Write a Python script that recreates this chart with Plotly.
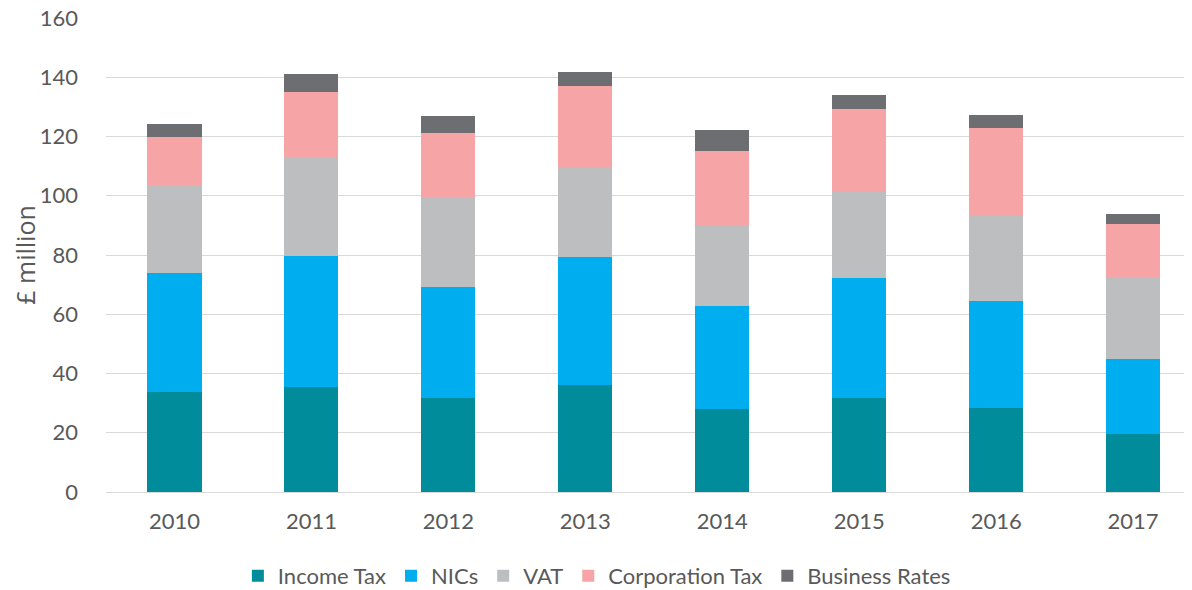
import plotly.graph_objects as go

years = ["2010", "2011", "2012", "2013", "2014", "2015", "2016", "2017"]
income_tax = [33.6, 35.4, 31.8, 36.0, 27.9, 31.8, 28.2, 19.5]
nics = [40.4, 44.3, 37.5, 43.4, 34.9, 40.6, 36.3, 25.5]
vat = [29.5, 33.2, 30.2, 30.1, 27.1, 28.8, 28.5, 27.4]
corporation_tax = [16.3, 22.0, 21.7, 27.5, 25.2, 28.1, 30.0, 18.1]
business_rates = [4.5, 6.1, 5.8, 4.9, 7.2, 4.7, 4.1, 3.3]
y_ticks = [0, 20, 40, 60, 80, 100, 120, 140, 160]

series = [
    ("Income Tax", income_tax, "#008C9A"),
    ("NICs", nics, "#00AEEF"),
    ("VAT", vat, "#BDBEC0"),
    ("Corporation Tax", corporation_tax, "#F7A4A7"),
    ("Business Rates", business_rates, "#6D6E72"),
]

fig = go.Figure()
for name, vals, col in series:
    fig.add_trace(go.Bar(x=years, y=vals, name=name, marker=dict(color=col, line=dict(width=0))))

font_family = "Lato, 'Open Sans', sans-serif"
fig.update_layout(
    barmode="stack",
    bargap=0.605,
    width=1184,
    height=582,
    margin=dict(l=98, r=0, t=10, b=98, autoexpand=False),
    paper_bgcolor="white",
    plot_bgcolor="white",
    font=dict(family=font_family, size=22, color="#595959"),
    legend=dict(
        orientation="h",
        x=0.452,
        xanchor="center",
        y=-0.177,
        yanchor="middle",
        font=dict(size=22, color="#595959"),
        itemwidth=30,
        traceorder="normal",
    ),
    xaxis=dict(
        type="category",
        range=[-0.5, 7.43],
        showgrid=False,
        showline=False,
        ticks="",
        ticklabelstandoff=14,
        tickfont=dict(size=22, color="#595959"),
    ),
    yaxis=dict(
        range=[0, 160],
        tickvals=y_ticks,
        showgrid=True,
        gridcolor="#D9D9D9",
        gridwidth=1.3,
        zeroline=True,
        zerolinecolor="#D9D9D9",
        zerolinewidth=1.3,
        ticks="",
        ticklabelstandoff=27,
        ticklabeloverflow="allow",
        tickfont=dict(size=22, color="#595959"),
        title=dict(
            text="£ million",
            font=dict(family="'Open Sans', sans-serif", size=25, color="#595959"),
            standoff=15,
        ),
    ),
)

fig.write_html("out.html")
